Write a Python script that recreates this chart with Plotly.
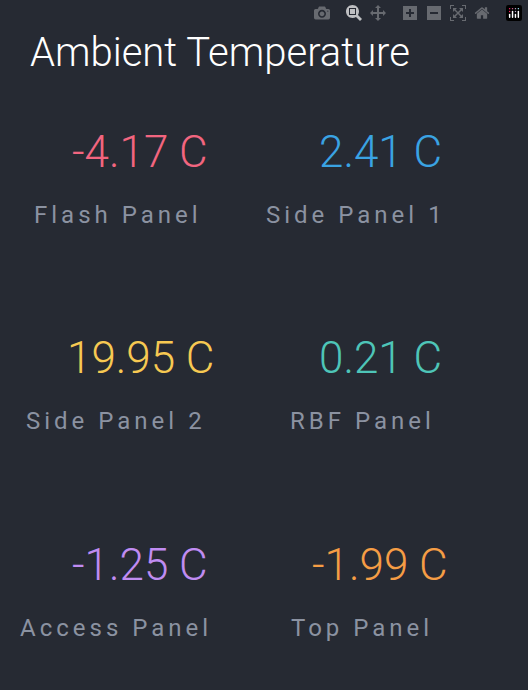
import plotly.graph_objects as go

title = "Ambient Temperature"
panels = ["Flash Panel", "Side Panel 1", "Side Panel 2", "RBF Panel", "Access Panel", "Top Panel"]
temps = [-4.17, 2.41, 19.95, 0.21, -1.25, -1.99]
colors = ["#f2657f", "#3aa3e3", "#f7c952", "#4ec5b8", "#c08cf2", "#f59d45"]

W, H = 528, 690
col_x = [140, 380]
row_y = [152, 358, 565]
spacing = 4  # letter spacing for the panel labels, px

fig = go.Figure()
annotations = [dict(text=title, x=28 / W, y=1 - 52 / H, xref="paper", yref="paper",
                    xanchor="left", yanchor="middle", showarrow=False,
                    font=dict(family="Roboto", size=40, color="#ffffff", weight=300))]
for i, (name, t, c) in enumerate(zip(panels, temps, colors)):
    x = col_x[i % 2] / W
    y = row_y[i // 2]
    annotations.append(dict(text=f"{t:.2f} C", x=x, y=1 - y / H, xref="paper", yref="paper",
                            xanchor="center", yanchor="middle", showarrow=False,
                            font=dict(family="Roboto", size=44, color=c, weight=300)))
    annotations.append(dict(text=name, x=x, y=1 - (y + 63) / H, xref="paper", yref="paper",
                            xanchor="center", yanchor="middle", showarrow=False,
                            xshift=-len(name) * spacing / 2,
                            font=dict(family="Roboto", size=24, color="#8b92a1")))

fig.update_layout(width=W, height=H, margin=dict(l=0, r=0, t=0, b=0),
                  paper_bgcolor="#262a33", plot_bgcolor="#262a33",
                  xaxis=dict(visible=False), yaxis=dict(visible=False),
                  annotations=annotations)

js = """
document.body.style.margin = '0';
document.querySelectorAll('.annotation-text').forEach(function (e) {
  if ((e.style.fill || '').indexOf('139, 146, 161') >= 0) e.style.letterSpacing = '%dpx';
});
""" % spacing
fig.write_html("out.html", post_script=js)
